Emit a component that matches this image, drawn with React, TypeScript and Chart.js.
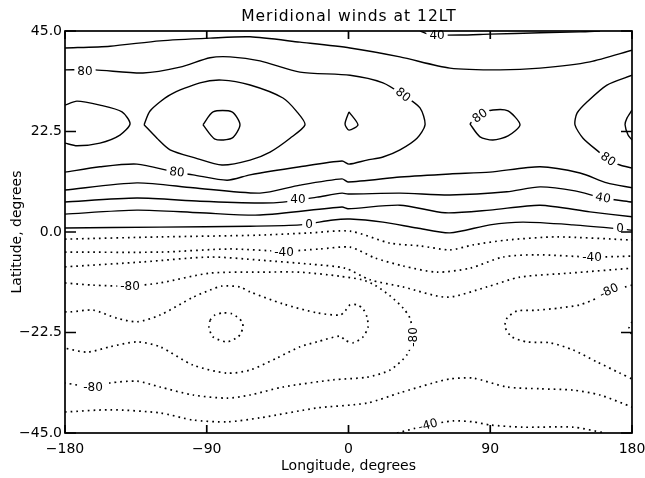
import React, { useEffect, useRef } from "react";
import { Chart, registerables } from "chart.js";

Chart.register(...registerables);

type Pt = [number, number];

const titleText = "Meridional winds at 12LT";
const xTitle = "Longitude, degrees";
const yTitle = "Latitude, degrees";
const lonTicks = [-180, -90, 0, 90, 180];
const latTicks = [-45, -22.5, 0, 22.5, 45];

// ---- positive (solid) contours: [longitude, latitude] ----
const c40Top: Pt[] = [[45.4, 45], [50.5, 44.3], [56.2, 44.1], [70.8, 44.1], [89.8, 44.3], [121.6, 44.6], [147.0, 44.8], [159.7, 45]];
const c60North: Pt[] = [[-180, 41.2], [-151.4, 41.6], [-119.7, 42.8], [-87.9, 43.4], [-62.5, 43.7], [-30.8, 42.5], [1.0, 41.2], [32.7, 39.2], [64.4, 36.7], [96.2, 36.3], [121.6, 36.7], [153.3, 38.1], [180, 40.7]];
const c80Main: Pt[] = [[-180, 36.3], [-161.0, 36.3], [-130.5, 35.6], [-107.0, 36.9], [-87.9, 39.0], [-75.2, 39.2], [-56.2, 38.3], [-30.8, 35.8], [1.0, 35.1], [21.9, 33.4], [34.6, 30.7], [45.4, 27.8], [48.6, 24.0], [43.5, 21.0], [32.7, 18.4], [21.9, 16.8], [11.7, 16.1], [0.3, 15.2], [-4.1, 15.9], [-30.8, 14.6], [-62.5, 12.8], [-77.1, 11.6], [-98.7, 12.8], [-110.2, 13.4], [-134.3, 15.2], [-157.8, 14.6], [-180, 13.4]];
const c80East: Pt[] = [[180, 35.1], [164.1, 32.9], [151.4, 29.1], [145.1, 26.6], [143.8, 24.0], [148.9, 21.0], [159.7, 17.7], [164.8, 16.1], [172.4, 15.0], [180, 14.3]];
const c80Small: Pt[] = [[77.1, 24.2], [82.2, 26.2], [91.7, 27.3], [101.3, 27.1], [108.9, 24.0], [101.3, 21.5], [91.7, 20.6], [83.5, 21.3], [77.1, 24.2]];
const c100Eye: Pt[] = [[-129.8, 24.0], [-126.0, 27.1], [-113.3, 30.7], [-94.3, 33.4], [-80.3, 34.0], [-62.5, 32.9], [-41.6, 30.0], [-32.7, 26.9], [-27.6, 24.0], [-37.1, 21.0], [-49.8, 17.9], [-62.5, 16.1], [-80.3, 15.0], [-97.5, 16.6], [-113.3, 18.4], [-121.6, 21.0], [-129.8, 24.0]];
const c100West: Pt[] = [[-180, 28.4], [-172.4, 29.3], [-157.8, 28.4], [-143.8, 26.9], [-138.7, 24.2], [-145.1, 21.7], [-157.8, 19.9], [-172.4, 19.3], [-180, 19.9]];
const c100East: Pt[] = [[180, 27.3], [176.8, 25.5], [175.6, 24.0], [177.5, 21.7], [180, 20.6]];
const c100Tri: Pt[] = [[0.3, 26.9], [6.0, 24.0], [0.3, 22.8], [-2.2, 24.2], [0.3, 26.9]];
const c120Hex: Pt[] = [[-92.4, 24.0], [-86.0, 26.9], [-74.0, 26.9], [-68.9, 24.0], [-74.0, 21.0], [-84.8, 20.8], [-92.4, 24.0]];
const c60Mid: Pt[] = [[-180, 9.4], [-134.3, 11.0], [-98.7, 9.9], [-56.2, 8.7], [-30.8, 10.5], [-4.1, 11.9], [-0.3, 11.2], [32.7, 12.3], [64.4, 13.0], [89.8, 13.4], [121.6, 14.6], [147.0, 13.2], [164.1, 11.0], [180, 9.9]];
const c40Mid: Pt[] = [[-180, 6.7], [-134.3, 7.6], [-94.3, 6.9], [-56.2, 6.5], [-41.6, 6.7], [-20.0, 7.8], [-4.1, 8.7], [-0.3, 8.5], [32.7, 8.7], [64.4, 8.3], [100.6, 9.0], [121.6, 10.1], [143.8, 9.2], [161.6, 7.6], [180, 6.7]];
const c20Mid: Pt[] = [[-180, 4.0], [-134.3, 4.9], [-94.3, 4.3], [-56.2, 3.8], [-4.1, 5.6], [-0.3, 5.2], [32.7, 6.0], [61.3, 4.3], [89.8, 4.9], [121.6, 6.0], [153.3, 4.5], [180, 3.4]];
const c0Line: Pt[] = [[-180, 0.9], [-119.7, 1.1], [-62.5, 1.3], [-30.8, 1.6], [-9.8, 2.7], [1.0, 2.9], [21.9, 2.2], [43.5, 0.9], [64.4, -0.2], [89.8, 1.6], [110.8, 2.2], [142.5, 1.6], [172.4, 0.7], [180, 0.4]];

// ---- negative (dotted) contours ----
const cm20: Pt[] = [[-180, -1.6], [-119.7, -1.1], [-56.2, -0.7], [-24.4, -0.2], [1.0, 0.2], [26.4, -2.5], [45.4, -3.1], [64.4, -4.0], [79.0, -2.9], [100.6, -1.8], [132.4, -1.1], [180, -1.8]];
const cm40: Pt[] = [[-180, -4.5], [-119.7, -4.5], [-75.2, -3.8], [-40.9, -4.3], [-18.1, -3.8], [1.0, -3.4], [16.8, -5.8], [34.6, -7.6], [56.2, -9.0], [77.1, -8.1], [98.1, -5.6], [119.7, -5.1], [154.6, -5.6], [180, -5.4]];
const cm60: Pt[] = [[-180, -7.8], [-130.5, -6.7], [-87.9, -5.6], [-56.2, -6.3], [-24.4, -7.2], [-2.2, -8.1], [13.7, -10.7], [34.6, -12.3], [62.5, -14.6], [87.9, -12.3], [108.9, -10.1], [140.6, -9.2], [180, -8.1]];
const cm80West: Pt[] = [[-180, -11.4], [-162.2, -11.9], [-138.7, -12.1], [-119.7, -11.4], [-87.9, -9.2], [-56.2, -9.0], [-30.8, -9.0], [-5.4, -9.9], [8.6, -10.7], [16.8, -11.9], [26.4, -14.3], [34.6, -17.0], [39.0, -19.3], [41.0, -23.5], [37.1, -27.5], [26.4, -30.9], [11.7, -32.5], [-9.8, -33.1], [-41.6, -34.7], [-62.5, -36.5], [-77.1, -37.2], [-98.7, -36.5], [-119.7, -34.7], [-134.3, -33.4], [-151.4, -33.8], [-162.2, -34.7], [-180, -33.8]];
const cm80East: Pt[] = [[180, -11.9], [164.8, -13.4], [157.8, -14.8], [147.0, -16.3], [134.3, -17.0], [119.7, -17.5], [107.0, -17.7], [100.6, -19.3], [99.4, -21.3], [103.8, -23.5], [113.3, -24.6], [127.9, -24.8], [142.5, -26.4], [157.8, -29.1], [172.4, -31.6], [180, -32.9]];
const cm100: Pt[] = [[-180, -17.9], [-176.8, -17.9], [-162.2, -17.5], [-147.0, -19.3], [-134.3, -20.1], [-119.7, -18.6], [-98.7, -14.6], [-87.9, -13.0], [-80.3, -12.1], [-68.9, -12.3], [-62.5, -13.4], [-41.6, -16.1], [-20.0, -18.1], [-5.4, -18.6], [-2.2, -17.7], [1.0, -16.3], [5.4, -16.3], [9.2, -17.2], [11.7, -19.0], [12.4, -21.3], [9.2, -23.5], [2.9, -24.8], [-2.2, -24.2], [-5.4, -23.3], [-20.0, -24.6], [-30.8, -25.7], [-45.4, -28.2], [-62.5, -30.9], [-77.1, -31.6], [-98.7, -29.8], [-119.7, -25.7], [-134.3, -24.6], [-151.4, -25.7], [-166.0, -26.9], [-180, -26.0]];
const cm100East: Pt[] = [[180, -20.1], [178.1, -21.5], [180, -23.1]];
const cm120: Pt[] = [[-87.9, -19.7], [-84.8, -18.6], [-79.7, -18.1], [-74.0, -18.3], [-70.8, -19.0], [-67.6, -20.1], [-67.0, -21.3], [-68.3, -22.6], [-70.2, -23.5], [-77.1, -24.6], [-86.0, -23.5], [-88.6, -21.3], [-87.9, -19.7]];
const cm60South: Pt[] = [[-180, -40.3], [-151.4, -39.8], [-119.7, -40.5], [-98.7, -42.1], [-77.1, -42.5], [-56.2, -41.6], [-20.0, -39.4], [11.7, -38.3], [32.7, -36.0], [53.7, -33.8], [64.4, -32.9], [79.0, -32.7], [100.6, -34.7], [121.6, -35.1], [142.5, -35.4], [159.7, -36.5], [180, -39.2]];
const cm40South: Pt[] = [[30.8, -45], [42.9, -43.9], [50.5, -43.2], [66.3, -42.3], [79.0, -42.5], [89.8, -43.2], [110.8, -43.7], [142.5, -43.7], [162.9, -45]];

const solidLines: Pt[][] = [c40Top, c60North, c80Main, c80East, c80Small, c100Eye, c100West, c100East, c100Tri, c120Hex, c60Mid, c40Mid, c20Mid, c0Line];
const dottedLines: Pt[][] = [cm20, cm40, cm60, cm80West, cm80East, cm100, cm100East, cm120, cm60South, cm40South];

// ---- contour labels ----
const labelText = ["40", "80", "80", "80", "80", "80", "40", "40", "0", "0", "-40", "-40", "-80", "-80", "-80", "-80", "-40"];
const labelLon = [56.2, -167.3, 34.6, 83.5, 164.8, -108.9, -32.1, 161.6, -25.1, 172.4, -40.9, 154.6, -138.7, 165.4, 41.0, -162.2, 50.5];
const labelLat = [44.1, 36.0, 30.7, 26.0, 16.3, 13.4, 7.2, 7.6, 1.6, 0.7, -4.5, -5.6, -12.1, -13.2, -23.5, -34.7, -43.2];
const labelTilt = [0, 0, 38, -35, 35, 6, 0, 10, 0, 0, 0, 0, 0, -25, -90, 0, -15];

const FONT = "'DejaVu Sans', sans-serif";
const minus = (s: string) => s.replace("-", "\u2212");

export default function App() {
  const ref = useRef<HTMLCanvasElement>(null);

  useEffect(() => {
    const canvas = ref.current;
    if (!canvas) return;

    const toXY = (pts: Pt[]) => pts.map(([x, y]) => ({ x, y }));
    const datasets: any[] = [
      ...solidLines.map((pts) => ({
        data: toXY(pts),
        showLine: true,
        borderColor: "#000",
        borderWidth: 1.4,
        pointRadius: 0,
        tension: 0.25,
        fill: false,
      })),
      ...dottedLines.map((pts) => ({
        data: toXY(pts),
        showLine: true,
        borderColor: "#000",
        borderWidth: 1.7,
        borderDash: [1.7, 4],
        pointRadius: 0,
        tension: 0.25,
        fill: false,
      })),
    ];

    const labelPlugin = {
      id: "contourLabels",
      afterDatasetsDraw(chart: any) {
        const { ctx, scales } = chart;
        const x = scales.x;
        const y = scales.y;
        ctx.save();
        ctx.font = `12px ${FONT}`;
        ctx.textAlign = "center";
        ctx.textBaseline = "middle";
        labelText.forEach((t, i) => {
          const px = x.getPixelForValue(labelLon[i]);
          const py = y.getPixelForValue(labelLat[i]);
          ctx.save();
          ctx.translate(px, py);
          ctx.rotate((labelTilt[i] * Math.PI) / 180);
          const w = ctx.measureText(t).width;
          ctx.fillStyle = "#fff";
          ctx.fillRect(-w / 2 - 3, -5.5, w + 6, 11);
          ctx.fillStyle = "#000";
          ctx.fillText(t, 0, 0.5);
          ctx.restore();
        });
        ctx.restore();
      },
    };

    const framePlugin = {
      id: "frameTicks",
      afterDraw(chart: any) {
        const { ctx, chartArea: a, scales } = chart;
        const x = scales.x;
        const y = scales.y;
        ctx.save();
        ctx.strokeStyle = "#000";
        ctx.lineWidth = 1.7;
        ctx.strokeRect(a.left, a.top, a.right - a.left, a.bottom - a.top);
        ctx.beginPath();
        x.ticks.forEach((t: any) => {
          const p = x.getPixelForValue(t.value);
          ctx.moveTo(p, a.bottom);
          ctx.lineTo(p, a.bottom - 8);
          ctx.moveTo(p, a.top);
          ctx.lineTo(p, a.top + 8);
        });
        y.ticks.forEach((t: any) => {
          const p = y.getPixelForValue(t.value);
          ctx.moveTo(a.left, p);
          ctx.lineTo(a.left + 11, p);
          ctx.moveTo(a.right, p);
          ctx.lineTo(a.right - 11, p);
        });
        ctx.stroke();
        ctx.font = `15.5px ${FONT}`;
        (ctx as any).letterSpacing = "1px";
        ctx.textAlign = "center";
        ctx.textBaseline = "middle";
        ctx.fillStyle = "#000";
        ctx.fillText(titleText, (a.left + a.right) / 2 + 0.5, 17);
        ctx.restore();
      },
    };

    const chart = new Chart(canvas, {
      type: "scatter",
      data: { datasets },
      options: {
        responsive: false,
        animation: false,
        events: [],
        layout: { padding: { top: 31, right: 13, left: 0, bottom: 0 } },
        plugins: {
          legend: { display: false },
          tooltip: { enabled: false },
          title: { display: false },
        },
        scales: {
          x: {
            type: "linear",
            min: -180,
            max: 180,
            afterBuildTicks: (s: any) => {
              s.ticks = lonTicks.map((v) => ({ value: v }));
            },
            afterFit: (s: any) => {
              s.height = 45;
              s.paddingLeft = 0;
              s.paddingRight = 0;
            },
            grid: { display: false, drawTicks: false },
            border: { display: false },
            ticks: {
              padding: 8,
              color: "#000",
              autoSkip: false,
              maxRotation: 0,
              font: { family: FONT, size: 14 },
              callback: (v: any) => minus(String(Number(v))),
            },
            title: {
              display: true,
              text: xTitle,
              color: "#000",
              font: { family: FONT, size: 14 },
              padding: { top: 0, bottom: 3 },
            },
          },
          y: {
            type: "linear",
            min: -45,
            max: 45,
            afterBuildTicks: (s: any) => {
              s.ticks = latTicks.map((v) => ({ value: v }));
            },
            afterFit: (s: any) => {
              s.width = 65;
              s.paddingTop = 0;
              s.paddingBottom = 0;
            },
            grid: { display: false, drawTicks: false },
            border: { display: false },
            ticks: {
              padding: 3,
              color: "#000",
              autoSkip: false,
              font: { family: FONT, size: 14 },
              callback: (v: any) => minus(Number(v).toFixed(1)),
            },
            title: {
              display: true,
              text: yTitle,
              color: "#000",
              font: { family: FONT, size: 14 },
              padding: { top: 9, bottom: 0 },
            },
          },
        },
      } as any,
      plugins: [labelPlugin, framePlugin],
    });

    return () => chart.destroy();
  }, []);

  return (
    <div style={{ position: "fixed", left: 0, top: 0, width: 645, height: 478, background: "#fff" }}>
      <canvas ref={ref} width={645} height={478} style={{ display: "block" }} />
    </div>
  );
}
